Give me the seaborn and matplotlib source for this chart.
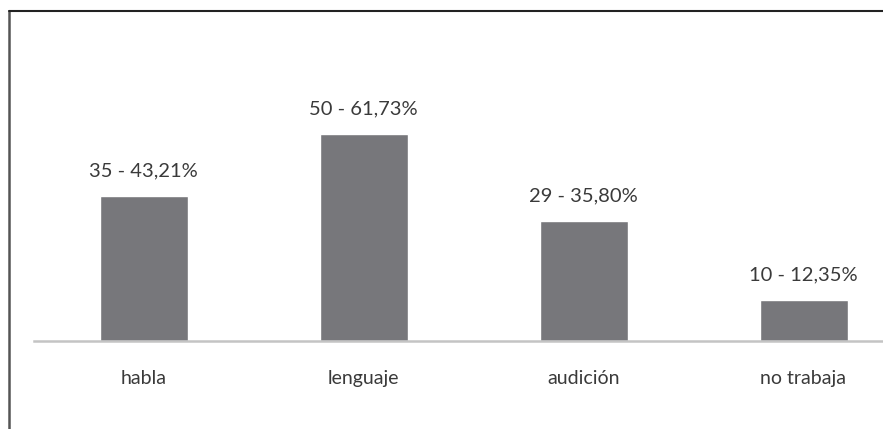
import matplotlib
matplotlib.use('Agg')
import matplotlib.pyplot as plt
from matplotlib.lines import Line2D
import seaborn as sns
import pandas as pd

# datos del gráfico
categorias = ['habla', 'lenguaje', 'audición', 'no trabaja']
casos = [35, 50, 29, 10]
porcentajes = [43.21, 61.73, 35.80, 12.35]

df = pd.DataFrame({'categoria': categorias, 'porcentaje': porcentajes})

sns.set_style('white')
plt.rcParams['font.family'] = ['Lato', 'DejaVu Sans']

fig = plt.figure(figsize=(8.83, 4.29), dpi=100)
ax = fig.add_axes([33.5 / 883, 88 / 429, 880 / 883, 233 / 429])

sns.barplot(data=df, x='categoria', y='porcentaje', color='#77777b',
            width=0.4, saturation=1, ax=ax)

# etiquetas "n - %"
etiquetas = [f"{n} - {p:.2f}%".replace('.', ',') for n, p in zip(casos, porcentajes)]
ax.bar_label(ax.containers[0], labels=etiquetas, padding=12,
             fontsize=14.5, color='#3a3a3a')

ax.set_xlim(-0.5, 3.5)
ax.set_ylim(0, 69.5)
ax.set_xlabel('')
ax.set_ylabel('')
ax.set_yticks([])
ax.tick_params(axis='x', length=0, pad=21, labelsize=14, labelcolor='#3a3a3a')
for s in ['left', 'right', 'top']:
    ax.spines[s].set_visible(False)
ax.spines['bottom'].set_color('#c4c4c4')
ax.spines['bottom'].set_linewidth(1.8)

# marco de la figura (recortado)
fig.add_artist(Line2D([8.5 / 883, 8.5 / 883], [0, 1 - 11 / 429],
                      transform=fig.transFigure, color='#555555', lw=1.8))
fig.add_artist(Line2D([8.5 / 883, 1], [1 - 11 / 429, 1 - 11 / 429],
                      transform=fig.transFigure, color='#222222', lw=1.5))

fig.savefig('out.png', dpi=100)
